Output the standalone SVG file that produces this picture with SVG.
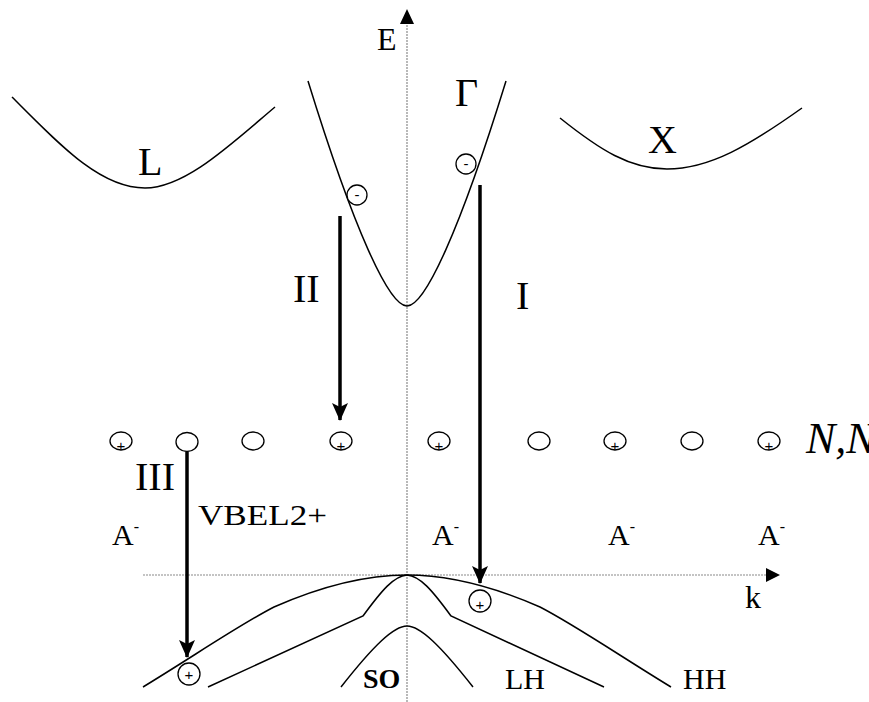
<svg xmlns="http://www.w3.org/2000/svg" width="869" height="702" viewBox="0 0 869 702">
  <style>
    .t { font-family: "Liberation Serif", "Times New Roman", serif; fill: #000; }
    .band { fill: none; stroke: #000; stroke-width: 1.5; }
    .axis { fill: none; stroke: #8a8a8a; stroke-width: 1.2; stroke-dasharray: 2 1; }
    .trans { fill: none; stroke: #000; stroke-width: 3.5; }
    .site { fill: #fff; stroke: #000; stroke-width: 1.3; }
    .sign { font-family: "Liberation Sans", Arial, sans-serif; font-size: 15px; text-anchor: middle; }
  </style>
  <defs>
    <marker id="head" viewBox="0 0 18 16" refX="17" refY="8" markerWidth="18" markerHeight="16" markerUnits="userSpaceOnUse" orient="auto">
      <path d="M0,0 L4,8 L0,16 L18,8 Z" fill="#000"/>
    </marker>
  </defs>

  <rect width="869" height="702" fill="#fff"/>

  <!-- axes -->
  <g id="axes">
    <line class="axis" x1="407" y1="702" x2="407" y2="22"/>
    <polygon points="407,9 400,24 414,24" fill="#000"/>
    <line class="axis" x1="143" y1="575" x2="768" y2="575"/>
    <polygon points="780,575 766,568 766,582" fill="#000"/>
    <text class="t" x="377" y="50" font-size="32">E</text>
    <text class="t" x="745" y="608" font-size="32">k</text>
  </g>

  <!-- conduction band valleys -->
  <g id="valley-L">
    <path class="band" d="M12,97 C60,145 100,188 145,188 C185,188 230,145 275,107"/>
    <text class="t" x="138" y="175" font-size="40">L</text>
  </g>
  <g id="valley-Gamma">
    <path class="band" d="M308,81 C354,230 389,306 407,306 C425,306 460,230 506,81"/>
    <text class="t" x="455" y="106" font-size="40">Γ</text>
  </g>
  <g id="valley-X">
    <path class="band" d="M560,118 C600,150 630,169 667,169 C710,169 750,145 802,108"/>
    <text class="t" x="648" y="153" font-size="40">X</text>
  </g>

  <!-- valence bands -->
  <g id="band-HH">
    <path class="band" d="M143,687 C194,656 239,625 274,607 C324,585 369,575 407,575 C445,575 490,585 540,607 C575,625 620,656 671,687"/>
    <text class="t" x="683" y="689" font-size="30">HH</text>
  </g>
  <g id="band-LH">
    <path class="band" d="M208,687 L363,616 C382,590 394,576 407,575 C420,576 432,590 451,616 L604,687"/>
    <text class="t" x="505" y="689" font-size="30">LH</text>
  </g>
  <g id="band-SO">
    <path class="band" d="M341,687 C374,645 394,626 407,626 C420,626 440,645 473,687"/>
    <text class="t" x="363" y="688" font-size="28" font-weight="bold">SO</text>
  </g>

  <!-- electrons in the Γ valley -->
  <g id="electron-1">
    <circle class="site" cx="357" cy="195" r="10"/>
    <text class="sign" x="357" y="200">-</text>
  </g>
  <g id="electron-2">
    <circle class="site" cx="466" cy="164" r="10"/>
    <text class="sign" x="466" y="169">-</text>
  </g>

  <!-- holes in the valence band -->
  <g id="hole-1">
    <circle class="site" cx="480" cy="601" r="11"/>
    <text class="sign" x="480" y="610">+</text>
  </g>
  <g id="hole-2">
    <circle class="site" cx="189" cy="674" r="11"/>
    <text class="sign" x="189" y="680">+</text>
  </g>

  <!-- donor / acceptor level sites -->
  <g id="level-sites">
    <ellipse class="site" cx="121" cy="441" rx="11" ry="9"/>
    <text class="sign" x="121" y="451">+</text>
    <ellipse class="site" cx="187" cy="442" rx="11" ry="9.5"/>
    <ellipse class="site" cx="253" cy="441" rx="11" ry="9"/>
    <ellipse class="site" cx="341" cy="441" rx="11" ry="9"/>
    <text class="sign" x="341" y="451">+</text>
    <ellipse class="site" cx="439" cy="441" rx="11" ry="9"/>
    <text class="sign" x="439" y="451">+</text>
    <ellipse class="site" cx="539" cy="441" rx="11" ry="9"/>
    <ellipse class="site" cx="615" cy="441" rx="11" ry="9"/>
    <text class="sign" x="615" y="451">+</text>
    <ellipse class="site" cx="692" cy="441" rx="11" ry="9"/>
    <ellipse class="site" cx="769" cy="441" rx="11" ry="9"/>
    <text class="sign" x="769" y="451">+</text>
    <text class="t" x="806" y="453" font-size="44" font-style="italic">N,N</text>
  </g>

  <!-- ionised acceptors -->
  <g id="acceptors">
    <text class="t" x="112" y="545" font-size="30">A<tspan font-size="16" dy="-13">-</tspan></text>
    <text class="t" x="432" y="545" font-size="30">A<tspan font-size="16" dy="-13">-</tspan></text>
    <text class="t" x="608" y="545" font-size="30">A<tspan font-size="16" dy="-13">-</tspan></text>
    <text class="t" x="758" y="545" font-size="30">A<tspan font-size="16" dy="-13">-</tspan></text>
  </g>

  <!-- recombination transitions -->
  <g id="transitions">
    <line class="trans" x1="480" y1="185" x2="480" y2="583" marker-end="url(#head)"/>
    <line class="trans" x1="340" y1="216" x2="340" y2="420" marker-end="url(#head)"/>
    <line class="trans" x1="187" y1="452" x2="187" y2="657" marker-end="url(#head)"/>
  </g>
  <g id="transition-labels">
    <text class="t" x="516" y="309" font-size="40">I</text>
    <text class="t" x="293" y="302" font-size="40">II</text>
    <text class="t" x="135" y="490" font-size="40">III</text>
    <text class="t" x="198" y="525" font-size="30" textLength="129" lengthAdjust="spacingAndGlyphs">VBEL2+</text>
  </g>
</svg>
